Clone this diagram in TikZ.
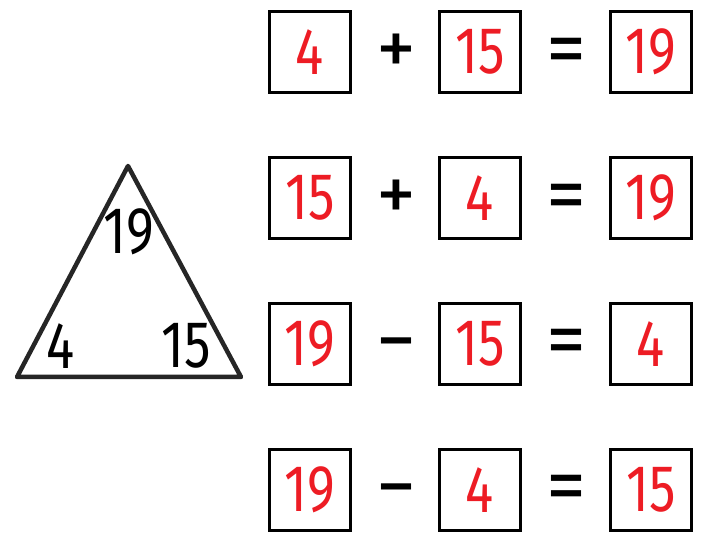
\documentclass[tikz,border=0pt]{standalone}
\usepackage{fontspec}
\setmainfont[FakeStretch=0.8]{Fira Sans}
\newfontfamily\opfont{Fira Sans}
\definecolor{numred}{HTML}{ED1C24}
\begin{document}
\begin{tikzpicture}[x=1pt,y=-1pt,
  ansbox/.style={draw=black, line width=3pt, minimum width=81pt, minimum height=81pt, inner sep=0pt, text=numred, font=\fontsize{66}{66}\selectfont},
  op/.style={inner sep=0pt, text=black, font=\opfont\fontsize{80}{80}\selectfont},
  minusop/.style={op, anchor=base},
  trinum/.style={inner sep=0pt, text=black, font=\fontsize{66}{66}\selectfont},
  triline/.style={draw=black!85, line width=4.5pt, line join=round}]
\useasboundingbox (0,0) rectangle (702,534);
% triangle
\coordinate (ta) at (128,166);
\coordinate (tl) at (17,377);
\coordinate (tr) at (241,377);
\draw[triline] (ta) -- (tr) -- (tl) -- cycle;
\node[trinum] (t19) at (129,232) {19};
\node[trinum] (t4) at (61,346) {4};
\node[trinum] (t15) at (186,346) {15};
% row 1
\node[ansbox] (a1) at (310,52) {4};
\node[op] (o1) at (396,55) {+};
\node[ansbox] (b1) at (480,52) {15};
\node[op] (e1) at (566,57) {=};
\node[ansbox] (c1) at (651,52) {19};
% row 2
\node[ansbox] (a2) at (310,198) {15};
\node[op] (o2) at (396,201) {+};
\node[ansbox] (b2) at (480,198) {4};
\node[op] (e2) at (566,203) {=};
\node[ansbox] (c2) at (651,198) {19};
% row 3
\node[ansbox] (a3) at (310,344) {19};
\node[minusop] (o3) at (396,368) {−};
\node[ansbox] (b3) at (480,344) {15};
\node[op] (e3) at (566,348) {=};
\node[ansbox] (c3) at (651,344) {4};
% row 4
\node[ansbox] (a4) at (310,490) {19};
\node[minusop] (o4) at (396,514) {−};
\node[ansbox] (b4) at (480,490) {4};
\node[op] (e4) at (566,494) {=};
\node[ansbox] (c4) at (651,490) {15};
\end{tikzpicture}
\end{document}
